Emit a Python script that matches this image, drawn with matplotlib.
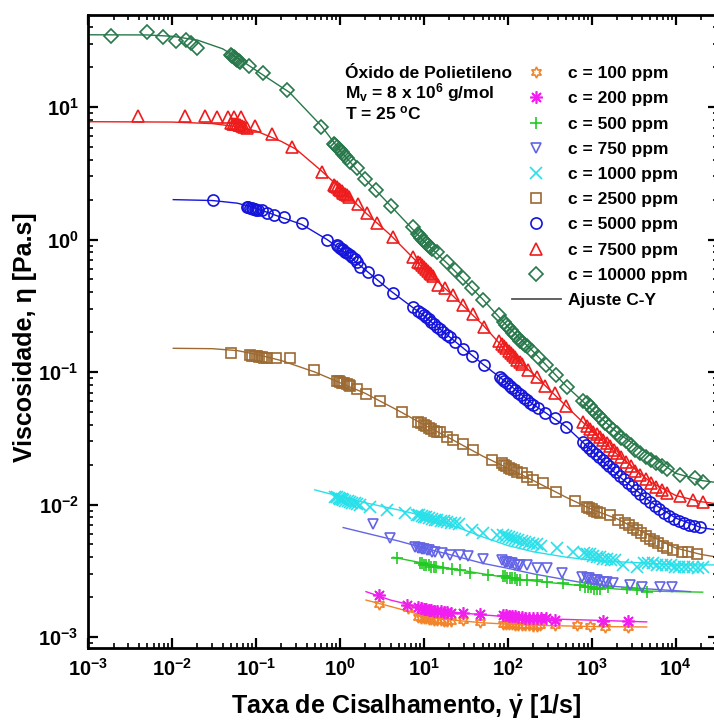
import math
import matplotlib
matplotlib.use('Agg')
import matplotlib.pyplot as plt
from matplotlib.lines import Line2D
from matplotlib.ticker import LogLocator, FixedLocator, FuncFormatter, NullFormatter

plt.rcParams['font.family'] = ['Liberation Sans', 'DejaVu Sans']
plt.rcParams['font.weight'] = 'bold'
plt.rcParams['mathtext.fontset'] = 'custom'
plt.rcParams['mathtext.rm'] = 'Liberation Sans:bold'
plt.rcParams['mathtext.it'] = 'Liberation Sans:bold'
plt.rcParams['mathtext.bf'] = 'Liberation Sans:bold'

# ---- measured points (shear rate [1/s], viscosity [Pa.s]) ----
x100 = [2.94, 6.41, 8.6, 9.2, 9.9, 10.6, 11.4, 12.3, 13.3, 14.5, 15.8, 17.3, 19, 21,
        29, 46.7, 88, 95, 103, 112, 122, 133, 146, 161, 178, 198, 222,
        242, 365, 662, 955, 1443, 2730]
y100 = [0.00177, 0.00165, 0.00142, 0.00140, 0.00139, 0.00138, 0.00137, 0.00136, 0.00135,
        0.00134, 0.00134, 0.00133, 0.00133, 0.00132, 0.00134, 0.00130, 0.00126, 0.00126,
        0.00125, 0.00125, 0.00124, 0.00124, 0.00123, 0.00123, 0.00123, 0.00122, 0.00122,
        0.00123, 0.00123, 0.00123, 0.00121, 0.00118, 0.00120]

x200 = [2.94, 6.37, 8.6, 9.2, 9.9, 10.6, 11.4, 12.3, 13.3, 14.5, 15.8, 17.3, 19, 21,
        29.5, 46.7, 88, 95, 103, 112, 122, 133, 146, 161, 178, 198, 222, 250, 285,
        365, 1364, 2730]
y200 = [0.00207, 0.00175, 0.00168, 0.00166, 0.00164, 0.00162, 0.00160, 0.00159, 0.00158,
        0.00157, 0.00156, 0.00155, 0.00154, 0.00153, 0.00152, 0.00149, 0.00147, 0.00146,
        0.00145, 0.00144, 0.00143, 0.00142, 0.00141, 0.00140, 0.00140, 0.00139, 0.00139,
        0.00138, 0.00138, 0.00134, 0.00133, 0.00133]

x500 = [4.84, 9.0, 9.5, 10.1, 10.7, 11.4, 12.2, 13.1, 14.1, 17.0, 21.4, 26.9, 35.4, 57.3,
        88, 93, 99, 106, 113, 121, 130, 140, 168, 221, 291, 459, 726,
        840, 900, 970, 1050, 1140, 1250, 1578, 2610, 3440, 4520]
y500 = [0.00393, 0.0036, 0.0036, 0.0035, 0.0035, 0.0035, 0.0034, 0.0034, 0.0034, 0.0033,
        0.00325, 0.0032, 0.00306, 0.00294, 0.0029, 0.0029, 0.0028, 0.0028, 0.0028, 0.0028,
        0.0027, 0.0027, 0.00269, 0.00267, 0.00261, 0.00254, 0.00247,
        0.0024, 0.0024, 0.0024, 0.0023, 0.0023, 0.0023, 0.00237, 0.00233, 0.00229, 0.0022]

x750 = [2.49, 3.94, 7.9, 8.4, 8.9, 9.5, 10.1, 10.8, 11.6, 12.5, 13.4, 16.3, 20.5, 26.9,
        33.8, 51, 86, 92, 98, 105, 113, 122, 131, 140, 168, 221, 291, 439, 760,
        880, 940, 1000, 1080, 1170, 1270, 1390, 1510, 1810, 2860, 3950, 6520, 8970]
y750 = [0.00713, 0.00556, 0.0048, 0.0047, 0.0047, 0.0046, 0.0046, 0.0045, 0.0045, 0.0044,
        0.0044, 0.00429, 0.00416, 0.00416, 0.00409, 0.00386, 0.0038, 0.0037, 0.0037, 0.0036,
        0.0036, 0.0035, 0.0035, 0.0035, 0.00349, 0.0033, 0.0033, 0.00303, 0.00285,
        0.0028, 0.0028, 0.0027, 0.0027, 0.0027, 0.0026, 0.0026, 0.0026, 0.00254, 0.00247,
        0.00237, 0.0024, 0.0024]

x1000 = [0.88, 0.92, 0.96, 1.0, 1.05, 1.1, 1.16, 1.23, 1.3, 1.4, 1.5, 1.6, 1.72,
         2.28, 3.6, 5.96, 8.3, 8.8, 9.4, 10, 10.7, 11.5, 12.4, 13.4, 14.5, 15.8, 17.3, 19,
         21, 23.5, 26.5, 37.2, 51, 73.8, 88, 95, 103, 112, 122, 133, 146, 161, 178, 198,
         222, 250, 383, 604, 800, 870, 950, 1040, 1140, 1250, 1380, 1530, 1700, 1900,
         2380, 3440, 4200, 4700, 5300, 6000, 6800, 7700, 8700, 9800, 11000, 12500, 14200,
         16200, 18500, 21000]
y1000 = [0.0114, 0.0113, 0.0112, 0.0111, 0.0110, 0.0109, 0.0107, 0.0106, 0.0105, 0.0103,
         0.0102, 0.0101, 0.0100, 0.00964, 0.00908, 0.00867, 0.0084, 0.0083, 0.0082, 0.0081,
         0.0080, 0.0079, 0.0078, 0.0077, 0.0076, 0.0075, 0.0075, 0.0074, 0.0073, 0.0072,
         0.0071, 0.00641, 0.00606, 0.00589, 0.0059, 0.0058, 0.0057, 0.0056, 0.0055, 0.0054,
         0.0053, 0.0052, 0.0051, 0.0050, 0.0050, 0.0049, 0.00468, 0.00441, 0.0043, 0.0042,
         0.0042, 0.0041, 0.0040, 0.0040, 0.0039, 0.0039, 0.0038, 0.0038, 0.00349, 0.00339,
         0.0036, 0.0036, 0.0036, 0.0035, 0.0035, 0.0035, 0.0035, 0.0034, 0.0034, 0.0034,
         0.0034, 0.0034, 0.0033, 0.0034]

x2500 = [0.0498, 0.085, 0.09, 0.096, 0.102, 0.109, 0.117, 0.125, 0.134, 0.173, 0.254, 0.494,
         0.91, 0.96, 1.01, 1.07, 1.13, 1.2, 1.27, 1.32, 1.58, 2.02, 3.02, 5.52,
         8.6, 9.2, 9.9, 10.6, 11.4, 12.3, 13.3, 14.4, 15.6, 18.7, 22.4, 29, 38, 64.3,
         85, 90, 96, 103, 110, 118, 128, 147, 168, 201, 261, 375, 631,
         880, 940, 1000, 1070, 1150, 1250, 1650, 2075, 2500, 2800, 3100, 3500, 3900, 4400,
         4900, 5500, 6200, 7000, 7800, 9400, 11800, 14200, 17900]
y2500 = [0.138, 0.134, 0.133, 0.132, 0.131, 0.130, 0.129, 0.128, 0.127, 0.127, 0.127, 0.1035,
         0.086, 0.085, 0.084, 0.083, 0.082, 0.081, 0.080, 0.079, 0.0745, 0.0683, 0.0604, 0.0497,
         0.042, 0.041, 0.040, 0.039, 0.038, 0.037, 0.036, 0.0355, 0.035, 0.0325, 0.0307,
         0.0285, 0.026, 0.0217, 0.0205, 0.0200, 0.0195, 0.0190, 0.0186, 0.0182, 0.0177,
         0.0174, 0.0162, 0.0153, 0.0145, 0.0125, 0.0107, 0.0096, 0.0094, 0.0092, 0.0090,
         0.0088, 0.0086, 0.00834, 0.00764, 0.0073, 0.0070, 0.0067, 0.0064, 0.0061, 0.0058,
         0.0055, 0.0053, 0.0051, 0.0049, 0.0047, 0.00454, 0.0044, 0.0044, 0.00423]

x5000 = [0.0309, 0.077, 0.081, 0.085, 0.089, 0.093, 0.097, 0.101, 0.106, 0.117, 0.134, 0.163,
         0.215, 0.356, 0.706, 0.91, 0.95, 1.0, 1.05, 1.1, 1.16, 1.22, 1.3, 1.4, 1.5, 1.6,
         1.73, 2.17, 2.86, 4.24, 7.48, 8.6, 9.2, 9.9, 10.6, 11.4, 12.3, 13.3, 14.4, 15.6,
         17.0, 18.6, 20.3, 23.5, 29, 37, 52, 80.7, 85, 91, 98, 105, 113, 122, 132, 143,
         155, 168, 182, 198, 231, 277, 365, 494, 794, 850, 930, 1020, 1120, 1230, 1350,
         1480, 1620, 1780, 1950, 2150, 2400, 2700, 3000, 3400, 3800, 4300, 4900, 5600,
         6400, 7300, 8400, 9600, 11000, 12700, 14600, 16500, 19500]
y5000 = [1.99, 1.76, 1.75, 1.73, 1.72, 1.71, 1.70, 1.68, 1.66, 1.67, 1.59, 1.53, 1.49, 1.34,
         0.99, 0.91, 0.89, 0.87, 0.85, 0.83, 0.81, 0.79, 0.765, 0.74, 0.71, 0.68, 0.624,
         0.572, 0.495, 0.396, 0.307, 0.29, 0.28, 0.27, 0.26, 0.25, 0.24, 0.23, 0.22, 0.21,
         0.20, 0.19, 0.185, 0.169, 0.150, 0.133, 0.113, 0.0923, 0.088, 0.085, 0.082, 0.079,
         0.076, 0.073, 0.070, 0.067, 0.064, 0.061, 0.058, 0.056, 0.0532, 0.0493, 0.0448,
         0.0387, 0.0298, 0.028, 0.0268, 0.0255, 0.0242, 0.023, 0.0218, 0.0206, 0.0195,
         0.0185, 0.0175, 0.0165, 0.0155, 0.0145, 0.0137, 0.0128, 0.012, 0.0112, 0.0105,
         0.0098, 0.0092, 0.0087, 0.0082, 0.0078, 0.0075, 0.0072, 0.0070, 0.0069, 0.0068]

x7500 = [0.00386, 0.0142, 0.0246, 0.0345, 0.0459, 0.055, 0.066, 0.050, 0.053, 0.056, 0.059,
         0.062, 0.065, 0.068, 0.072, 0.077, 0.097, 0.153, 0.266, 0.605, 0.84, 0.88, 0.92,
         0.96, 1.0, 1.05, 1.1, 1.15, 1.2, 1.29, 1.65, 2.08, 2.78, 4.25, 7.48, 8.6, 9.0, 9.5,
         10, 10.5, 11.1, 11.7, 12.3, 12.9, 14.9, 17.8, 22.4, 29.0, 38.2, 52, 79, 85, 90, 96,
         102, 108, 115, 122, 130, 138, 147, 175, 221, 277, 365, 494, 782, 870, 950, 1040,
         1140, 1250, 1370, 1500, 1650, 1820, 2000, 2250, 2550, 2900, 3300, 3800, 4400, 5100,
         5900, 6800, 7800, 11250, 16200, 21400]
y7500 = [8.59, 8.59, 8.59, 8.45, 8.45, 8.36, 8.36, 7.55, 7.5, 7.45, 7.4, 7.35, 7.3, 7.2, 7.1,
         7.0, 7.2, 6.22, 5.01, 3.25, 2.6, 2.53, 2.47, 2.42, 2.37, 2.31, 2.25, 2.2, 2.15, 2.10,
         1.85, 1.58, 1.33, 1.04, 0.742, 0.68, 0.66, 0.64, 0.62, 0.60, 0.58, 0.56, 0.545, 0.53,
         0.454, 0.428, 0.381, 0.32, 0.274, 0.22, 0.172, 0.163, 0.157, 0.151, 0.145, 0.139,
         0.134, 0.129, 0.124, 0.119, 0.115, 0.104, 0.0912, 0.0784, 0.069, 0.0557, 0.0422,
         0.039, 0.037, 0.0355, 0.034, 0.0322, 0.0305, 0.029, 0.0275, 0.026, 0.0245, 0.0228,
         0.021, 0.0195, 0.018, 0.0167, 0.0155, 0.0145, 0.0136, 0.0128, 0.0122, 0.0115,
         0.0108, 0.0105]

x10000 = [0.00187, 0.00497, 0.0078, 0.0110, 0.0145, 0.0168, 0.0199, 0.050, 0.052, 0.054,
          0.056, 0.058, 0.060, 0.062, 0.065, 0.0822, 0.121, 0.232, 0.594, 0.84, 0.88, 0.92,
          0.96, 1.0, 1.05, 1.1, 1.15, 1.2, 1.32, 1.61, 1.99, 2.69, 4.02, 7.35, 8.5, 8.9, 9.3,
          9.7, 10.1, 10.6, 11.1, 11.7, 12.4, 14.2, 18.7, 23.5, 29.0, 37.2, 51, 79, 89, 95,
          101, 108, 115, 123, 131, 140, 150, 160, 170, 193, 231, 285, 375, 512, 794, 880,
          950, 1030, 1120, 1220, 1330, 1450, 1600, 1780, 2000, 2250, 2550, 2900, 3300, 3800,
          4400, 5100, 5900, 6800, 7800, 11200, 17000, 21400]
y10000 = [34.5, 36.6, 34.0, 31.3, 32.1, 30.3, 27.7, 24.5, 24.2, 23.8, 23.5, 23.0, 22.6, 22.3,
          21.9, 20.5, 18.2, 13.4, 7.03, 5.3, 5.13, 4.98, 4.83, 4.7, 4.55, 4.39, 4.25, 4.13,
          3.86, 3.44, 2.84, 2.36, 1.79, 1.25, 1.10, 1.06, 1.03, 1.0, 0.97, 0.94, 0.91, 0.88,
          0.85, 0.81, 0.68, 0.589, 0.509, 0.428, 0.349, 0.269, 0.238, 0.228, 0.218, 0.208,
          0.198, 0.189, 0.180, 0.172, 0.165, 0.160, 0.156, 0.145, 0.129, 0.113, 0.095, 0.0767,
          0.0607, 0.058, 0.055, 0.052, 0.049, 0.0465, 0.044, 0.0415, 0.039, 0.0365, 0.0345,
          0.032, 0.030, 0.028, 0.026, 0.0245, 0.023, 0.0215, 0.0205, 0.0195, 0.0186, 0.0167,
          0.0158, 0.0149]

# ---- Carreau-Yasuda fit curves ----
fx100 = [2.04, 4, 10, 20, 50, 100, 300, 1000, 4520]
fy100 = [0.0019, 0.0017, 0.00145, 0.00135, 0.00128, 0.00125, 0.00122, 0.0012, 0.00119]

fx200 = [2.04, 4, 10, 20, 50, 100, 300, 1000, 4520]
fy200 = [0.0022, 0.0019, 0.00165, 0.00155, 0.00147, 0.00142, 0.00137, 0.00134, 0.0013]

fx500 = [4.3, 10, 20, 50, 100, 200, 500, 1000, 2000, 5000, 21000]
fy500 = [0.0040, 0.0036, 0.0033, 0.0030, 0.0028, 0.00265, 0.0025, 0.0024, 0.0023, 0.00222,
         0.00218]

fx750 = [1.09, 2, 5, 10, 20, 50, 100, 200, 500, 1000, 2000, 5000, 15000]
fy750 = [0.0067, 0.0061, 0.0053, 0.0047, 0.0042, 0.0036, 0.0033, 0.0030, 0.0027, 0.0025,
         0.0024, 0.0023, 0.0022]

fx1000 = [0.5, 1, 2, 5, 10, 20, 50, 100, 200, 500, 1000, 2000, 5000, 10000, 32000]
fy1000 = [0.0129, 0.0115, 0.0103, 0.0091, 0.0082, 0.0071, 0.0057, 0.0049, 0.0044, 0.0040,
          0.0038, 0.0037, 0.0036, 0.0035, 0.0035]

fx2500 = [0.0103, 0.03, 0.06, 0.1, 0.2, 0.5, 1, 2, 5, 10, 20, 50, 100, 200, 500, 1000, 2000,
          5000, 10000, 20000, 32000]
fy2500 = [0.151, 0.150, 0.145, 0.136, 0.122, 0.100, 0.083, 0.069, 0.051, 0.040, 0.0318,
          0.0232, 0.0188, 0.0152, 0.0113, 0.0092, 0.0078, 0.0058, 0.0047, 0.0042, 0.0040]

fx5000 = [0.0103, 0.03, 0.06, 0.1, 0.2, 0.35, 0.7, 1, 2, 4, 10, 20, 50, 100, 200, 500, 1000,
          2000, 5000, 10000, 20000, 32000]
fy5000 = [2.0, 1.97, 1.88, 1.72, 1.47, 1.3, 1.0, 0.85, 0.59, 0.41, 0.265, 0.185, 0.115,
          0.082, 0.057, 0.0385, 0.0255, 0.0168, 0.0105, 0.0079, 0.0067, 0.0064]

fx7500 = [0.001, 0.01, 0.03, 0.06, 0.1, 0.2, 0.3, 0.6, 1, 2, 4, 10, 20, 50, 100, 200, 500,
          1000, 2000, 5000, 10000, 20000, 32000]
fy7500 = [7.75, 7.7, 7.5, 7.1, 6.6, 5.5, 4.8, 3.3, 2.45, 1.6, 1.08, 0.6, 0.4, 0.228, 0.14,
          0.097, 0.055, 0.036, 0.024, 0.0148, 0.0117, 0.0105, 0.0101]

fx10000 = [0.001, 0.005, 0.01, 0.02, 0.04, 0.07, 0.12, 0.25, 0.6, 1, 2, 4, 10, 20, 50, 100,
           200, 500, 1000, 2000, 5000, 10000, 20000, 32000]
fy10000 = [35.1, 35.0, 34.2, 32.0, 27.5, 22.0, 17.5, 12.9, 7.2, 4.7, 2.85, 1.8, 0.97, 0.64,
           0.355, 0.22, 0.143, 0.078, 0.052, 0.035, 0.0235, 0.0172, 0.0152, 0.0146]

labels = ['c = 100 ppm', 'c = 200 ppm', 'c = 500 ppm', 'c = 750 ppm', 'c = 1000 ppm',
          'c = 2500 ppm', 'c = 5000 ppm', 'c = 7500 ppm', 'c = 10000 ppm']

xticks = [1e-3, 1e-2, 1e-1, 1e0, 1e1, 1e2, 1e3, 1e4]
yticks = [1e-3, 1e-2, 1e-1, 1e0, 1e1]

series = [
    (x100, y100, fx100, fy100, '#f2842a', (6, 1, 0), 8, True),
    (x200, y200, fx200, fy200, '#f01ef0', (8, 2, 0), 9, False),
    (x500, y500, fx500, fy500, '#22c922', '+', 9, False),
    (x750, y750, fx750, fy750, '#6464e6', 'v', 7.5, True),
    (x1000, y1000, fx1000, fy1000, '#28e0ea', 'x', 8, False),
    (x2500, y2500, fx2500, fy2500, '#9c6a32', 's', 7.5, True),
    (x5000, y5000, fx5000, fy5000, '#1414dc', 'o', 8, True),
    (x7500, y7500, fx7500, fy7500, '#ee1c1c', '^', 8, True),
    (x10000, y10000, fx10000, fy10000, '#27784a', 'D', 7, True),
]

fig = plt.figure(figsize=(7.14, 7.22), dpi=100)
ax = fig.add_axes([88.3 / 714, 74 / 722, 629.3 / 714, 633 / 722])

handles = []
for (xs, ys, fxs, fys, col, mk, ms, hollow), lab in zip(series, labels):
    ax.plot(fxs, fys, '-', color=col, lw=1.0, zorder=1)
    kw = dict(ls='none', marker=mk, ms=ms, mec=col, mew=1.2,
              mfc='none' if hollow else col)
    ax.plot(xs, ys, zorder=2, **kw)
    handles.append(Line2D([], [], **kw))
handles.append(Line2D([], [], color='#555555', lw=1.3))

ax.set_xscale('log')
ax.set_yscale('log')
ax.set_xlim(1e-3, 10 ** 4.5)
ax.set_ylim(8.26e-4, 49.5)


def decade(v, pos):
    return r'$\mathbf{10^{%d}}$' % round(math.log10(v))


for a, major in ((ax.xaxis, xticks), (ax.yaxis, yticks)):
    a.set_major_locator(FixedLocator(major))
    a.set_minor_locator(LogLocator(base=10, subs=range(2, 10), numticks=20))
    a.set_major_formatter(FuncFormatter(decade))
    a.set_minor_formatter(NullFormatter())

ax.tick_params(which='both', direction='in', top=True, right=True, labelsize=14.5)
ax.tick_params(which='major', length=7, width=1.6)
ax.tick_params(which='minor', length=3.5, width=1.2)
ax.tick_params(axis='x', pad=7)
ax.tick_params(axis='y', pad=7)
for s in ax.spines.values():
    s.set_linewidth(2)

fig.text(406 / 714, 1 - 714 / 722, r'Taxa de Cisalhamento, $\dot{\gamma}$ [1/s]',
         ha='center', va='baseline', fontsize=18)
fig.text(25 / 714, 1 - 337 / 722, 'Viscosidade, η [Pa.s]', rotation=90,
         ha='center', va='center', fontsize=18)

fig.text(345 / 714, 1 - 73 / 722, 'Óxido de Polietileno', ha='left', va='center', fontsize=12.5)
fig.text(345 / 714, 1 - 93 / 722, r'M$_\mathregular{v}$ = 8 x 10$^\mathregular{6}$ g/mol',
         ha='left', va='center', fontsize=12.5)
fig.text(345 / 714, 1 - 113 / 722, r'T = 25 $^\mathregular{o}$C', ha='left', va='center',
         fontsize=12.5)

ax.legend(handles, labels + ['Ajuste C-Y'], loc='upper left',
          bbox_to_anchor=(512 / 714, 1 - 66 / 722), bbox_transform=fig.transFigure,
          frameon=False, fontsize=12.5, borderpad=0, borderaxespad=0, numpoints=1,
          handlelength=2.8, handletextpad=0.45, labelspacing=0.58)

fig.savefig('out.png', dpi=100)
